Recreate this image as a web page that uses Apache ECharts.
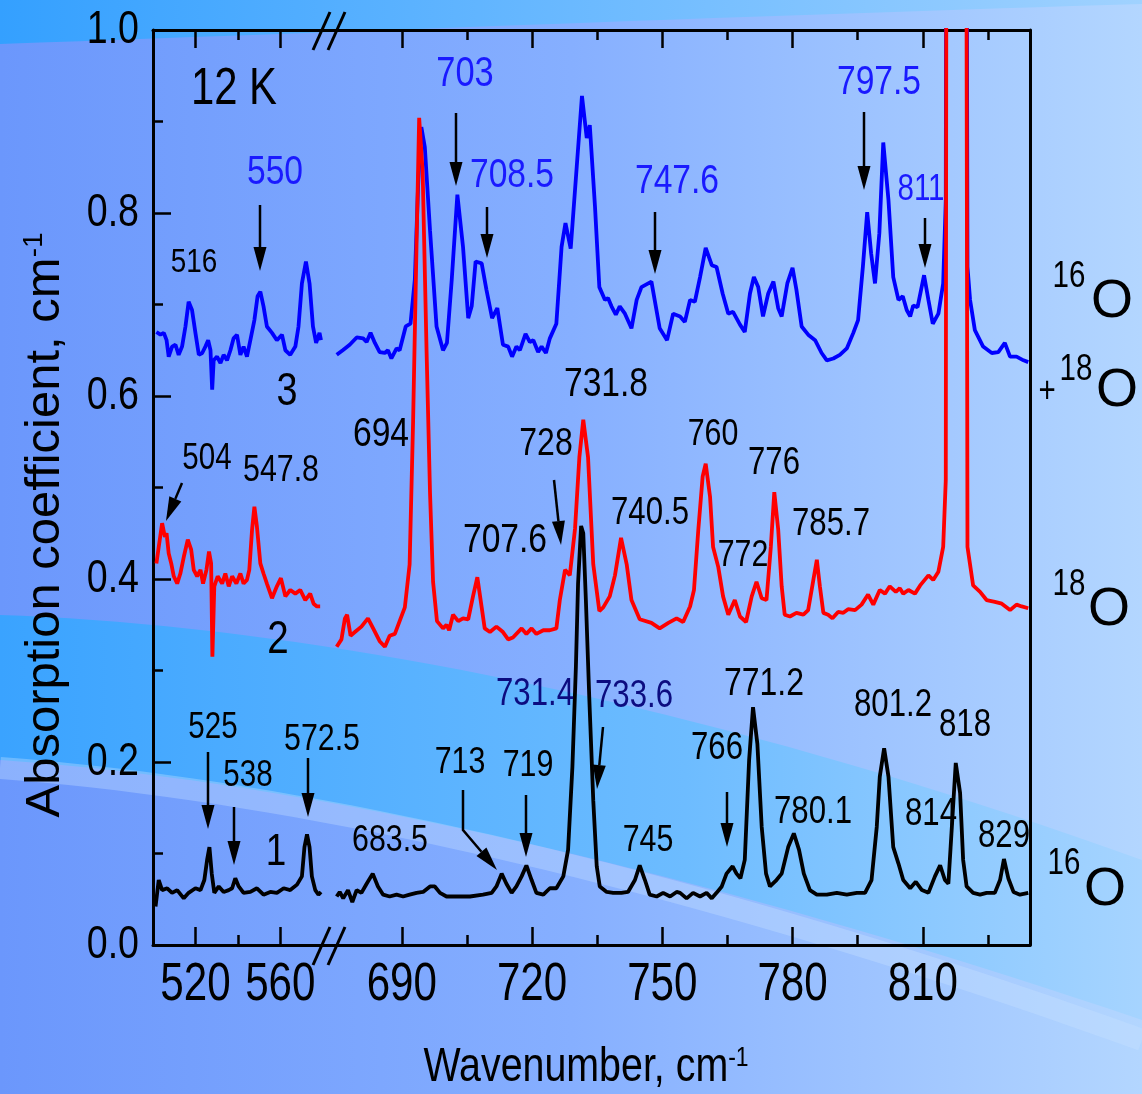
<!DOCTYPE html>
<html><head><meta charset="utf-8">
<script src="https://cdn.jsdelivr.net/npm/echarts@6/dist/echarts.min.js"></script>
<style>html,body{margin:0;padding:0;background:#7aa4ff;} #c{width:1142px;height:1094px;}</style>
</head><body><div id="c"></div>
<script>
// ---------- DATA (wavenumber cm-1, absorption coefficient cm-1) ----------
const leftTicks = [520, 560];
const leftMinorTicks = [540];
const rightTicks = [690, 720, 750, 780, 810];
const rightMinorTicks = [705, 735, 765, 795, 825];
const yTicks = [0, 0.2, 0.4, 0.6, 0.8, 1.0];

// curve 3: 16O + 18O (blue)
const curve3Left = [[501.6,0.670],[503.5,0.667],[505.1,0.669],[506.4,0.661],[507.4,0.643],[509.0,0.654],[510.6,0.656],[512.1,0.645],[513.7,0.654],[515.3,0.676],[516.8,0.703],[518.4,0.694],[520.0,0.669],[521.6,0.645],[523.2,0.647],[524.7,0.654],[526.0,0.661],[527.1,0.650],[527.9,0.607],[528.6,0.639],[530.2,0.643],[531.8,0.636],[533.3,0.645],[534.9,0.639],[536.5,0.650],[538.0,0.663],[539.6,0.667],[541.2,0.645],[542.7,0.654],[544.3,0.643],[545.9,0.661],[547.8,0.683],[549.3,0.709],[550.6,0.714],[552.1,0.698],[553.7,0.676],[556.1,0.669],[558.4,0.661],[560.8,0.667],[562.4,0.650],[564.7,0.645],[567.1,0.654],[568.6,0.676],[570.2,0.723],[572.1,0.747],[573.8,0.723],[575.4,0.676],[576.9,0.658],[578.5,0.669],[579.2,0.661]];
const curve3Right = [[675.0,0.645],[676.4,0.650],[678.0,0.656],[679.6,0.664],[681.1,0.663],[681.9,0.659],[682.8,0.669],[683.8,0.658],[684.9,0.648],[686.1,0.647],[686.8,0.650],[687.6,0.641],[688.8,0.652],[689.5,0.650],[690.9,0.676],[692.0,0.679],[693.0,0.727],[693.8,0.836],[694.5,0.894],[695.3,0.872],[696.5,0.781],[698.0,0.676],[699.5,0.650],[700.4,0.658],[701.5,0.727],[702.8,0.820],[704.1,0.763],[705.3,0.685],[706.1,0.698],[707.0,0.747],[708.4,0.745],[709.5,0.716],[710.8,0.685],[712.0,0.696],[713.3,0.656],[714.5,0.654],[715.4,0.643],[716.4,0.654],[717.2,0.650],[718.5,0.668],[719.5,0.659],[720.3,0.661],[721.4,0.648],[722.2,0.654],[723.2,0.647],[724.1,0.663],[725.6,0.679],[726.8,0.763],[727.7,0.789],[728.9,0.761],[730.3,0.851],[731.5,0.928],[732.6,0.882],[733.3,0.896],[734.5,0.807],[735.5,0.719],[736.8,0.705],[737.5,0.707],[738.3,0.698],[739.3,0.689],[740.2,0.698],[741.4,0.690],[742.9,0.674],[744.1,0.705],[745.2,0.719],[747.5,0.725],[749.4,0.674],[751.1,0.661],[752.5,0.690],[754.1,0.687],[755.2,0.681],[756.4,0.705],[757.5,0.703],[758.7,0.730],[760.0,0.762],[761.4,0.743],[762.5,0.741],[763.9,0.712],[765.2,0.690],[766.3,0.692],[767.9,0.678],[769.0,0.670],[770.2,0.712],[771.1,0.730],[772.1,0.719],[773.2,0.687],[774.4,0.712],[775.6,0.725],[776.7,0.696],[777.5,0.687],[778.8,0.723],[780.0,0.740],[780.9,0.716],[782.1,0.676],[783.6,0.667],[785.2,0.661],[786.7,0.647],[787.9,0.639],[789.4,0.641],[790.9,0.645],[792.5,0.652],[794.0,0.669],[795.1,0.683],[796.2,0.741],[797.2,0.801],[798.1,0.756],[799.0,0.723],[800.0,0.778],[800.9,0.877],[802.1,0.814],[803.2,0.730],[804.4,0.705],[805.4,0.709],[806.3,0.694],[807.1,0.687],[807.8,0.699],[808.8,0.697],[810.3,0.732],[811.3,0.705],[812.3,0.679],[813.6,0.690],[814.7,0.723],[815.3,0.814],[815.6,1.800],[819.8,1.800],[820.3,0.741],[820.9,0.705],[822.0,0.672],[823.9,0.654],[825.9,0.647],[827.4,0.648],[828.9,0.658],[830.1,0.643],[831.6,0.643],[833.2,0.639],[834.3,0.637]];

// curve 2: 18O (red)
const curve2Left = [[501.6,0.417],[502.7,0.435],[504.3,0.461],[505.6,0.446],[506.4,0.450],[507.4,0.428],[508.6,0.417],[509.8,0.403],[511.4,0.395],[512.9,0.406],[514.5,0.424],[516.4,0.443],[518.0,0.432],[519.2,0.410],[520.8,0.403],[522.4,0.410],[523.6,0.395],[525.2,0.410],[526.4,0.430],[527.4,0.417],[528.0,0.315],[528.9,0.392],[530.5,0.403],[532.6,0.395],[534.1,0.406],[535.7,0.392],[537.3,0.403],[539.3,0.395],[541.2,0.406],[542.7,0.395],[544.3,0.399],[545.4,0.410],[546.7,0.454],[547.8,0.479],[549.0,0.457],[550.6,0.417],[552.1,0.406],[553.7,0.395],[556.1,0.379],[558.4,0.392],[560.3,0.401],[562.4,0.381],[564.7,0.388],[567.1,0.384],[569.4,0.388],[571.8,0.377],[574.1,0.384],[575.7,0.373],[577.3,0.370],[578.8,0.370]];
const curve2Right = [[675.0,0.326],[676.1,0.334],[676.9,0.357],[677.4,0.361],[678.2,0.338],[679.2,0.342],[680.7,0.348],[682.2,0.357],[683.4,0.346],[684.9,0.332],[686.1,0.326],[687.2,0.338],[688.4,0.340],[689.5,0.354],[690.7,0.369],[691.8,0.416],[692.6,0.572],[693.4,0.767],[694.0,0.904],[694.8,0.845],[695.7,0.650],[696.5,0.494],[697.2,0.397],[698.1,0.354],[699.5,0.346],[700.3,0.350],[700.9,0.344],[701.8,0.361],[703.0,0.354],[704.1,0.357],[705.3,0.356],[706.4,0.381],[707.4,0.402],[708.4,0.369],[709.1,0.346],[710.3,0.342],[711.8,0.348],[713.3,0.342],[714.5,0.334],[715.6,0.336],[717.6,0.346],[718.7,0.340],[719.9,0.346],[721.0,0.340],[722.6,0.344],[724.1,0.344],[725.6,0.346],[726.4,0.377],[727.6,0.410],[728.7,0.404],[729.9,0.455],[730.9,0.533],[731.8,0.574],[732.9,0.533],[734.1,0.416],[735.5,0.365],[736.4,0.369],[737.9,0.381],[739.1,0.404],[740.5,0.445],[741.8,0.416],[742.9,0.377],[744.8,0.356],[747.5,0.352],[749.4,0.346],[751.4,0.352],[753.3,0.357],[754.8,0.353],[756.4,0.370],[757.3,0.388],[758.3,0.454],[759.3,0.512],[760.0,0.526],[761.0,0.490],[761.7,0.435],[762.9,0.413],[764.0,0.381],[765.2,0.361],[766.7,0.377],[767.9,0.359],[769.3,0.353],[770.6,0.381],[771.7,0.397],[772.9,0.379],[774.0,0.377],[775.0,0.435],[775.8,0.495],[776.7,0.454],[777.5,0.392],[778.2,0.361],[779.4,0.359],[780.9,0.363],[782.5,0.361],[783.6,0.366],[784.8,0.399],[785.6,0.421],[786.3,0.392],[787.1,0.363],[788.2,0.361],[789.2,0.357],[790.5,0.364],[791.7,0.363],[792.8,0.367],[794.4,0.366],[795.9,0.372],[797.4,0.383],[798.6,0.372],[800.1,0.388],[801.3,0.384],[802.4,0.392],[803.8,0.386],[804.7,0.390],[805.5,0.384],[806.7,0.388],[808.2,0.384],[809.4,0.393],[811.3,0.404],[812.4,0.399],[813.6,0.408],[814.7,0.435],[815.3,0.508],[815.6,1.800],[819.8,1.800],[820.3,0.435],[821.6,0.393],[823.2,0.386],[824.7,0.377],[826.6,0.375],[828.2,0.373],[830.1,0.366],[831.6,0.372],[832.8,0.370],[834.3,0.368]];

// curve 1: 16O (black)
const curve1Left = [[501.2,0.042],[502.7,0.071],[504.3,0.060],[506.7,0.062],[509.0,0.057],[511.4,0.060],[514.5,0.051],[516.8,0.057],[520.0,0.062],[522.4,0.060],[524.2,0.071],[525.5,0.093],[526.6,0.107],[527.7,0.078],[528.9,0.057],[531.0,0.064],[533.3,0.058],[535.7,0.060],[537.3,0.062],[538.8,0.073],[540.4,0.064],[542.7,0.057],[545.9,0.058],[549.0,0.062],[552.1,0.055],[555.3,0.058],[558.4,0.057],[561.6,0.062],[564.7,0.060],[567.9,0.066],[570.2,0.075],[571.4,0.107],[572.6,0.121],[573.8,0.107],[574.9,0.075],[576.5,0.060],[578.0,0.055],[579.2,0.058]];
const curve1Right = [[675.0,0.053],[675.7,0.058],[676.5,0.051],[677.6,0.060],[678.6,0.047],[679.6,0.060],[680.7,0.057],[681.9,0.067],[683.3,0.078],[684.5,0.064],[685.7,0.055],[687.2,0.053],[688.8,0.055],[690.3,0.053],[691.8,0.055],[693.4,0.057],[694.9,0.058],[696.5,0.064],[697.6,0.064],[698.8,0.057],[700.3,0.053],[702.6,0.053],[705.7,0.053],[708.7,0.055],[710.7,0.057],[711.8,0.064],[713.0,0.078],[714.1,0.067],[715.3,0.057],[716.4,0.064],[717.6,0.075],[718.7,0.087],[719.9,0.071],[721.0,0.057],[722.6,0.055],[724.1,0.062],[725.6,0.062],[727.2,0.075],[728.3,0.104],[729.3,0.195],[730.1,0.304],[730.6,0.395],[731.3,0.458],[731.8,0.450],[732.4,0.377],[733.2,0.268],[734.1,0.158],[734.9,0.086],[735.6,0.064],[737.2,0.058],[738.7,0.057],[740.6,0.057],[742.1,0.058],[743.7,0.071],[744.8,0.087],[746.0,0.071],[747.1,0.055],[748.7,0.053],[750.2,0.057],[751.8,0.053],[753.3,0.058],[754.1,0.057],[755.6,0.051],[757.1,0.057],[758.7,0.053],[760.2,0.057],[761.4,0.051],[762.5,0.057],[763.7,0.064],[764.8,0.078],[766.2,0.086],[767.1,0.078],[768.0,0.073],[769.0,0.093],[770.0,0.202],[770.9,0.260],[771.9,0.220],[772.9,0.129],[773.9,0.078],[774.8,0.064],[776.3,0.071],[777.5,0.078],[779.0,0.107],[780.3,0.122],[781.5,0.104],[782.6,0.078],[784.0,0.060],[785.6,0.055],[787.9,0.055],[790.2,0.057],[792.5,0.055],[794.8,0.057],[796.7,0.057],[798.2,0.071],[799.4,0.129],[800.1,0.184],[801.1,0.215],[802.1,0.184],[803.2,0.107],[804.4,0.089],[805.5,0.071],[807.1,0.062],[808.4,0.069],[809.8,0.060],[811.3,0.057],[812.8,0.075],[814.0,0.087],[815.1,0.071],[815.9,0.067],[816.7,0.129],[817.6,0.199],[818.6,0.166],[819.3,0.093],[820.1,0.064],[821.6,0.057],[823.2,0.055],[824.7,0.057],[826.6,0.057],[827.8,0.071],[828.7,0.094],[829.7,0.073],[830.9,0.058],[832.4,0.055],[834.3,0.057]];

// ---------- STYLE / LAYOUT ----------
const FR = "'Liberation Sans',Arial,sans-serif";
const NARROW = 0.82; // emulate a condensed Arial face
const BLUE = '#0000ff', RED = '#ff0000', BLK = '#000000';
const LBLUE = '#1a1aff', NAVY = '#0c0c80';

const chart = echarts.init(document.getElementById('c'), null, {renderer: 'canvas'});

function xAx(grid, min, max, pos, ticks, len, line) {
  return {
    type: 'value', gridIndex: grid, min: min, max: max, position: pos,
    axisLine: {show: line, onZero: false, lineStyle: {color: '#000', width: 3}},
    axisTick: {show: true, inside: true, length: len, customValues: ticks, lineStyle: {color: '#000', width: 2.5}},
    axisLabel: {show: false},
    splitLine: {show: false}
  };
}

const L0 = 500, L1 = 582.5, R0 = 673, R1 = 834.7;

// annotation text: [text, cx, cy, color, fontSize]
const texts = [
  ['12 K', 234, 90, BLK, 51],
  ['516', 194, 263, BLK, 34], ['550', 275, 173, LBLUE, 41], ['3', 287, 392, BLK, 46],
  ['504', 207, 459, BLK, 36], ['547.8', 281, 471, BLK, 37], ['2', 278, 640, BLK, 47],
  ['525', 213, 728, BLK, 36], ['538', 248, 776, BLK, 36], ['572.5', 322, 740, BLK, 37], ['1', 276, 853, BLK, 45],
  ['703', 465, 74, LBLUE, 42], ['708.5', 512, 176, LBLUE, 41], ['747.6', 677, 182, LBLUE, 41],
  ['797.5', 879, 83, LBLUE, 41], ['811', 921, 190, LBLUE, 36],
  ['731.8', 606, 385, BLK, 41], ['694', 381, 435, BLK, 41], ['728', 546, 444, BLK, 39],
  ['707.6', 505, 541, BLK, 41], ['740.5', 650, 514, BLK, 38], ['760', 713, 435, BLK, 37],
  ['776', 774, 464, BLK, 38], ['772', 743, 556, BLK, 37], ['785.7', 831, 525, BLK, 38],
  ['731.4', 535, 695, NAVY, 38], ['733.6', 634, 697, NAVY, 38],
  ['713', 460, 763, BLK, 37], ['719', 528, 766, BLK, 37], ['683.5', 390, 841, BLK, 37], ['745', 648, 841, BLK, 37],
  ['771.2', 764, 684, BLK, 39], ['766', 717, 749, BLK, 38], ['780.1', 813, 813, BLK, 38],
  ['801.2', 893, 706, BLK, 38], ['818', 965, 726, BLK, 38], ['814', 931, 815, BLK, 38], ['829', 1004, 837, BLK, 38]
];
// arrows: list of points, last point = tip
const arrows = [
  [[260, 205], [260, 271]], [[456, 113], [456, 186]], [[487, 207], [487, 258]], [[655, 212], [655, 274]],
  [[864, 112], [864, 190]], [[925, 218], [925, 268]], [[182, 483], [166, 521]], [[554, 480], [561, 545]],
  [[208, 752], [208, 829]], [[234, 807], [234, 865]], [[308, 758], [308, 817]],
  [[463, 790], [463, 830], [497, 870]], [[526, 795], [526, 857]], [[603, 727], [597, 789]], [[727, 792], [727, 847]]
];

function bez(p0, p1, p2, p3, n) {
  const out = [];
  for (let i = 0; i <= n; i++) {
    const t = i / n, u = 1 - t;
    out.push([u*u*u*p0[0] + 3*u*u*t*p1[0] + 3*u*t*t*p2[0] + t*t*t*p3[0],
              u*u*u*p0[1] + 3*u*u*t*p1[1] + 3*u*t*t*p2[1] + t*t*t*p3[1]]);
  }
  return out;
}
function txt(s, x, y, color, size, extra) {
  const o = {type: 'text', z: 60, x: x, y: y, scaleX: NARROW,
    style: {text: s, fill: color, font: size + 'px ' + FR, align: 'center', verticalAlign: 'middle'}};
  if (extra) { for (const k in extra) { if (k === 'style') Object.assign(o.style, extra.style); else o[k] = extra[k]; } }
  return o;
}

const g = [];
// background
g.push({type: 'rect', z: -100, silent: true, shape: {x: 0, y: 0, width: 1142, height: 1094},
  style: {fill: new echarts.graphic.LinearGradient(0, 0, 1, 0, [{offset: 0, color: '#6b97fc'}, {offset: 0.5, color: '#86afff'}, {offset: 1, color: '#b3d6ff'}])}});
g.push({type: 'polygon', z: -99, silent: true,
  shape: {points: [[0, 0], [1142, 0], [1142, 4]].concat(bez([1142, 4], [800, 14], [400, 30], [0, 44], 30))},
  style: {fill: new echarts.graphic.LinearGradient(0, 0, 1, 0, [{offset: 0, color: '#34a0ff'}, {offset: 1, color: '#a0d2ff'}])}});
g.push({type: 'polygon', z: -99, silent: true,
  shape: {points: bez([0, 615], [300, 625], [700, 700], [1142, 860], 40).concat(bez([1142, 1020], [700, 870], [300, 780], [0, 760], 40))},
  style: {fill: new echarts.graphic.LinearGradient(0, 0, 1, 0, [{offset: 0, color: '#3aa3ff'}, {offset: 0.6, color: '#6dbcff'}, {offset: 1, color: '#a6d4ff'}])}});
g.push({type: 'polyline', z: -98, silent: true, shape: {points: bez([0, 768], [300, 790], [700, 880], [1142, 1040], 40)},
  style: {fill: null, stroke: 'rgba(200,225,255,0.35)', lineWidth: 22}});

// break marks
[[313, 12, 330, 50], [328, 12, 345, 50], [313, 927, 330, 965], [328, 927, 345, 965]].forEach(function (b) {
  g.push({type: 'line', z: 50, shape: {x1: b[2], y1: b[1], x2: b[0], y2: b[3]}, style: {stroke: '#000', lineWidth: 3}});
});

texts.forEach(function (t) { g.push(txt(t[0], t[1], t[2], t[3], t[4])); });

arrows.forEach(function (pts) {
  const T = pts[pts.length - 1], P = pts[pts.length - 2];
  const dx = T[0] - P[0], dy = T[1] - P[1], d = Math.sqrt(dx * dx + dy * dy);
  const ux = dx / d, uy = dy / d, Lh = 24, w = 6.5;
  const B = [T[0] - ux * Lh, T[1] - uy * Lh];
  g.push({type: 'polyline', z: 60, shape: {points: pts.slice(0, -1).concat([B])}, style: {stroke: '#000', lineWidth: 2.5, fill: null}});
  g.push({type: 'polygon', z: 60, shape: {points: [T, [B[0] - uy * w, B[1] + ux * w], [B[0] + uy * w, B[1] - ux * w]]}, style: {fill: '#000'}});
});

// isotope labels on the right
function iso(sup, supX, supY, big, bigX, bigY) {
  g.push(txt(sup, supX, supY, '#000', 36));
  g.push({type: 'text', z: 60, x: bigX, y: bigY, style: {text: big, fill: '#000', font: '54px ' + FR, align: 'center', verticalAlign: 'middle'}});
}
iso('16', 1069, 277, 'O', 1112, 302);
iso('18', 1076, 370, 'O', 1117, 391);
g.push(txt('+', 1047, 392, '#000', 36));
iso('18', 1069, 585, 'O', 1109, 610);
iso('16', 1064, 864, 'O', 1105, 890);

// axis titles
g.push({type: 'text', z: 60, x: 45, y: 525, rotation: Math.PI / 2,
  style: {text: '{a|Absorption coefficient, cm}{b|-1}', align: 'center', verticalAlign: 'middle',
    rich: {a: {font: '49px ' + FR, fill: '#000'}, b: {font: '28px ' + FR, fill: '#000', verticalAlign: 'top'}}}});
g.push({type: 'text', z: 60, x: 586, y: 1068, scaleX: NARROW,
  style: {text: '{a|Wavenumber, cm}{b|-1}', align: 'center', verticalAlign: 'middle',
    rich: {a: {font: '48px ' + FR, fill: '#000'}, b: {font: '28px ' + FR, fill: '#000', verticalAlign: 'top'}}}});

function lineSeries(name, data, xi, yi, color, z) {
  return {name: name, type: 'line', xAxisIndex: xi, yAxisIndex: yi, data: data, showSymbol: false, symbol: 'none',
    clip: true, z: z, lineStyle: {color: color, width: 3.8}, emphasis: {disabled: true}};
}

chart.setOption({
  animation: false,
  backgroundColor: 'transparent',
  grid: [
    {left: 153, top: 30, width: 175, height: 915},
    {left: 328, top: 30, width: 702, height: 915}
  ],
  xAxis: [
    xAx(0, L0, L1, 'bottom', leftTicks, 18, true),
    xAx(0, L0, L1, 'bottom', leftMinorTicks, 10, false),
    xAx(0, L0, L1, 'top', leftTicks, 18, true),
    xAx(0, L0, L1, 'top', leftMinorTicks, 10, false),
    xAx(1, R0, R1, 'bottom', rightTicks, 18, true),
    xAx(1, R0, R1, 'bottom', rightMinorTicks, 10, false),
    xAx(1, R0, R1, 'top', rightTicks, 18, true),
    xAx(1, R0, R1, 'top', rightMinorTicks, 10, false)
  ],
  yAxis: [
    {type: 'value', gridIndex: 0, min: 0, max: 1, interval: 0.2, position: 'left',
      axisLine: {show: true, lineStyle: {color: '#000', width: 3}},
      axisTick: {show: true, inside: true, length: 18, lineStyle: {color: '#000', width: 2.5}},
      minorTick: {show: true, splitNumber: 2, length: 10, lineStyle: {color: '#000', width: 2.5}},
      axisLabel: {show: false}, splitLine: {show: false}},
    {type: 'value', gridIndex: 1, min: 0, max: 1, interval: 0.2, position: 'right',
      axisLine: {show: true, lineStyle: {color: '#000', width: 3}},
      axisTick: {show: false}, axisLabel: {show: false}, splitLine: {show: false}}
  ],
  series: [
    lineSeries('3 (16O+18O)', curve3Left, 0, 0, BLUE, 2),
    lineSeries('3 (16O+18O)', curve3Right, 4, 1, BLUE, 2),
    lineSeries('2 (18O)', curve2Left, 0, 0, RED, 3),
    lineSeries('2 (18O)', curve2Right, 4, 1, RED, 3),
    lineSeries('1 (16O)', curve1Left, 0, 0, BLK, 4),
    lineSeries('1 (16O)', curve1Right, 4, 1, BLK, 4)
  ],
  graphic: {elements: g}
});

// tick labels placed through the axes' own scales (condensed face)
const tickLabels = [];
leftTicks.forEach(function (v) {
  const px = chart.convertToPixel({xAxisIndex: 0}, v);
  tickLabels.push(txt(String(v), px, 985, '#000', 54, {scaleX: 0.78}));
});
rightTicks.forEach(function (v) {
  const px = chart.convertToPixel({xAxisIndex: 4}, v);
  tickLabels.push(txt(String(v), px, 985, '#000', 54, {scaleX: 0.78}));
});
yTicks.forEach(function (v) {
  const py = chart.convertToPixel({yAxisIndex: 0}, v);
  tickLabels.push(txt(v.toFixed(1), 139, py, '#000', 47, {scaleX: 0.8, style: {align: 'right'}}));
});
chart.setOption({graphic: {elements: g.concat(tickLabels)}});
</script></body></html>
